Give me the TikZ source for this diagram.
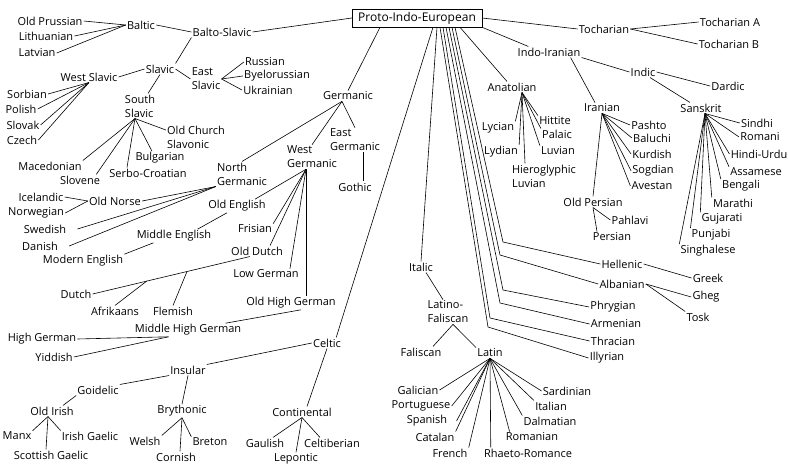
\documentclass[tikz,border=0pt]{standalone}
\usepackage{fontspec}
\setmainfont{Open Sans}
\usetikzlibrary{calc}
\begin{document}
\begin{tikzpicture}[x=1pt,y=-1pt,
  every node/.style={inner sep=1pt,font=\fontsize{11}{14}\selectfont},
  root/.style={draw,inner xsep=6pt,inner ysep=3pt,font=\fontsize{12}{14}\selectfont},
  every path/.style={line width=0.6pt}]
\useasboundingbox (0,0) rectangle (788,468);
\path (417,18) node[root](pie){Proto-Indo-European};
\path
(222,32) node(balto){Balto-Slavic}
(141,25) node(baltic){Baltic}
(50,21) node(oprus){Old Prussian}
(46,36) node(lith){Lithuanian}
(37,53) node(latv){Latvian}
(160,69) node(slavic){Slavic}
(89,77) node(wslav){West Slavic}
(27,94) node(sorb){Sorbian}
(21,109) node(pol){Polish}
(23,125) node(slk){Slovak}
(22,140) node(cze){Czech}
(140,106) node[align=left](sslav){South\\Slavic}
(206,79) node[align=left](eslav){East\\Slavic}
(265,62) node(rus){Russian}
(277,76) node(bye){Byelorussian}
(268,90) node(ukr){Ukrainian}
(196,137) node[align=left](ocs){Old Church\\Slavonic}
(160,158) node(bul){Bulgarian}
(148,173) node(serb){Serbo-Croatian}
(50,166) node(mac){Macedonian}
(80,180) node(slov){Slovene};
\path[draw] (pie.west)--(balto.east);
\path[draw] (balto.west)--(baltic.east);
\path[draw] (balto.south west)--(slavic.north east);
\path[draw] (baltic.west)--(oprus.east);
\path[draw] (baltic.west)--(lith.east);
\path[draw] (baltic.west)--(latv.east);
\path[draw] (slavic.west)--(wslav.east);
\path[draw] (slavic.south)--([xshift=8pt]sslav.north);
\path[draw] (slavic.east)--(eslav.west);
\path[draw] (eslav.east)--(rus.west);
\path[draw] (eslav.east)--(bye.west);
\path[draw] (eslav.east)--(ukr.west);
\path[draw] (wslav.south)--(sorb.east);
\path[draw] (wslav.south)--(pol.east);
\path[draw] (wslav.south)--(slk.east);
\path[draw] (wslav.south)--(cze.east);
\path[draw] ([xshift=-5pt]sslav.south)--([yshift=7pt]ocs.west);
\path[draw] ([xshift=-5pt]sslav.south)--(mac.north east);
\path[draw] ([xshift=-5pt]sslav.south)--([xshift=-5pt]slov.north east);
\path[draw] ([xshift=-5pt]sslav.south)--([xshift=-21pt]serb.north);
\path[draw] ([xshift=-5pt]sslav.south)--([xshift=-8pt]bul.north);
\path
(348,96) node(germ){Germanic}
(242,174) node[align=left](ngerm){North\\Germanic}
(312,157) node[align=left](wgerm){West\\Germanic}
(355,140) node[align=left](egerm){East\\Germanic}
(355,187) node(goth){Gothic}
(115,201) node(onorse){Old Norse}
(41,197) node(ice){Icelandic}
(36,213) node(nor){Norwegian}
(45,229) node(swe){Swedish}
(40,246) node(dan){Danish}
(237,206) node(oeng){Old English}
(174,236) node(meng){Middle English}
(83,261) node(modeng){Modern English}
(255,229) node(fris){Frisian}
(257,251) node(odutch){Old Dutch}
(76,294) node(dutch){Dutch}
(115,311) node(afr){Afrikaans}
(173,311) node(flem){Flemish}
(266,274) node(lowg){Low German}
(291,303) node(ohg){Old High German}
(188,330) node(mhg){Middle High German}
(42,339) node(highg){High German}
(54,357) node(yid){Yiddish};
\path[draw] ([xshift=-37pt]pie.south)--(germ.north);
\path[draw] ([xshift=-6pt]germ.south)--(ngerm.north);
\path[draw] ([xshift=-6pt]germ.south)--(wgerm.north);
\path[draw] ([xshift=-6pt]germ.south)--(egerm.north);
\path[draw] ([xshift=8pt]egerm.south)--([xshift=8pt]goth.north);
\path[draw] (ngerm.south west)--(onorse.east);
\path[draw] (ngerm.south west)--([xshift=10pt]swe.east);
\path[draw] (ngerm.south west)--([xshift=10pt]dan.east);
\path[draw] (onorse.west)--(ice.east);
\path[draw] (onorse.west)--(nor.east);
\path[draw] ([xshift=-6pt]wgerm.south)--([xshift=-12pt]oeng.north east);
\path[draw] ([xshift=-6pt]wgerm.south)--(fris.north east);
\path[draw] ([xshift=-6pt]wgerm.south)--([xshift=-14pt]odutch.north east);
\path[draw] ([xshift=-6pt]wgerm.south)--([xshift=-10pt]lowg.north east);
\path[draw] ([xshift=-6pt]wgerm.south)--([xshift=15pt]ohg.north);
\path[draw] ([xshift=20pt]oeng.south west)--([xshift=-15pt]meng.north east);
\path[draw] ([xshift=18pt]meng.south west)--(modeng.north east);
\path[draw] ([xshift=20pt]odutch.south west)--(dutch.east);
\path[draw] ($([xshift=20pt]odutch.south west)!0.4!(dutch.east)$)--(flem.north);
\path[draw] ($([xshift=20pt]odutch.south west)!0.656!(dutch.east)$)--(afr.north);
\path[draw] ([xshift=56pt]ohg.south west)--([xshift=-17pt]mhg.north east);
\path[draw] ([xshift=35pt]mhg.south west)--(highg.east);
\path[draw] ([xshift=35pt]mhg.south west)--(yid.east);
\path
(327,343) node(celtic){Celtic}
(188,370) node(insular){Insular}
(98,390) node(goid){Goidelic}
(52,411) node(oirish){Old Irish}
(17,436) node(manx){Manx}
(90,436) node(igael){Irish Gaelic}
(51,455) node(sgael){Scottish Gaelic}
(182,411) node(bryth){Brythonic}
(145,441) node(welsh){Welsh}
(210,442) node(breton){Breton}
(176,457) node(cornish){Cornish}
(302,412) node(cont){Continental}
(265,443) node(gaul){Gaulish}
(332,443) node(celtib){Celtiberian}
(296,459) node(lepon){Lepontic};
\path[draw] ([xshift=16pt]pie.south)--([xshift=-6pt]celtic.north east);
\path[draw] (celtic.west)--(insular.north east);
\path[draw] (celtic.south)--([xshift=5pt]cont.north);
\path[draw] (insular.south west)--(goid.north east);
\path[draw] (insular.south)--(bryth.north);
\path[draw] (goid.south west)--([xshift=11pt]oirish.north);
\path[draw] ([xshift=-4pt]oirish.south)--(manx.north east);
\path[draw] ([xshift=-4pt]oirish.south)--(igael.north west);
\path[draw] ([xshift=-4pt]oirish.south)--([xshift=-5pt]sgael.north);
\path[draw] (bryth.south)--(welsh.north east);
\path[draw] (bryth.south)--(breton.north west);
\path[draw] (bryth.south)--([xshift=4pt]cornish.north);
\path[draw] (cont.south)--([xshift=8pt]gaul.north);
\path[draw] (cont.south)--([xshift=-12pt]celtib.north);
\path[draw] (cont.south)--(lepon.north);
\path
(421,267) node(italic){Italic}
(448,312) node[align=left](latfal){Latino-\\Faliscan}
(421,352) node(falisc){Faliscan}
(490,353) node(latin){Latin}
(418,390) node(galic){Galician}
(421,406) node(port){Portuguese}
(427,421) node(span){Spanish}
(435,437) node(catal){Catalan}
(450,453) node(french){French}
(528,453) node(rhaeto){Rhaeto-Romance}
(532,437) node(roman){Romanian}
(550,421) node(dalm){Dalmatian}
(551,406) node(ital){Italian}
(567,391) node(sard){Sardinian};
\path[draw] ([xshift=20pt]pie.south)--(italic.north);
\path[draw] ([xshift=5pt]italic.south)--([xshift=-5pt]latfal.north);
\path[draw] ([xshift=5pt]latfal.south)--([xshift=12pt]falisc.north);
\path[draw] ([xshift=5pt]latfal.south)--(latin.north west);
\path[draw] (latin.south)--(galic.east);
\path[draw] (latin.south)--(port.east);
\path[draw] (latin.south)--([xshift=8pt]span.east);
\path[draw] (latin.south)--(catal.north east);
\path[draw] (latin.south)--(french.north east);
\path[draw] (latin.south)--([xshift=8pt]rhaeto.north west);
\path[draw] (latin.south)--([xshift=5pt]roman.north west);
\path[draw] (latin.south)--(dalm.north west);
\path[draw] (latin.south)--(ital.north west);
\path[draw] (latin.south)--(sard.west);
\path
(622,264) node(hell){Hellenic}
(622,284) node(alb){Albanian}
(708,278) node(greek){Greek}
(706,297) node(gheg){Gheg}
(698,317) node(tosk){Tosk}
(613,307) node(phry){Phrygian}
(616,324) node(arm){Armenian}
(613,341) node(thrac){Thracian}
(607,358) node(illyr){Illyrian};
\path[draw] ([xshift=38pt]pie.south)--(503,242)--(hell.west);
\path[draw] ([xshift=35pt]pie.south)--(500,255)--(alb.west);
\path[draw] ([xshift=32pt]pie.south)--(503,290)--(phry.west);
\path[draw] ([xshift=29pt]pie.south)--(500,303)--(arm.west);
\path[draw] ([xshift=26pt]pie.south)--(490,318)--(thrac.west);
\path[draw] ([xshift=23pt]pie.south)--(488,327)--(illyr.west);
\path[draw] (hell.east)--(greek.west);
\path[draw] (alb.east)--(gheg.west);
\path[draw] (alb.east)--(tosk.north west);
\path
(512,87) node(anat){Anatolian}
(555,121) node(hitt){Hittite}
(557,134) node(pala){Palaic}
(498,128) node(lyc){Lycian}
(501,152) node(lyd){Lydian}
(558,151) node(luv){Luvian}
(544,176) node[align=left](hluv){Hieroglyphic\\Luvian};
\path[draw] ([xshift=43pt]pie.south)--([xshift=-5pt]anat.north);
\path[draw] ([xshift=10pt]anat.south)--(lyc.north east);
\path[draw] ([xshift=10pt]anat.south)--(lyd.north east);
\path[draw] ([xshift=10pt]anat.south)--([xshift=-19pt]hluv.north);
\path[draw] ([xshift=10pt]anat.south)--(luv.north west);
\path[draw] ([xshift=10pt]anat.south)--(hitt.north west);
\path[draw] ([xshift=10pt]anat.south)--(pala.north west);
\path
(604,29) node(toch){Tocharian}
(730,22) node(tocha){Tocharian A}
(729,44) node(tochb){Tocharian B}
(549,52) node(indoir){Indo-Iranian}
(643,72) node(indic){Indic}
(728,86) node(dardic){Dardic}
(701,108) node(sansk){Sanskrit}
(602,108) node(iranian){Iranian}
(649,125) node(pashto){Pashto}
(652,138) node(baluchi){Baluchi}
(652,154) node(kurdish){Kurdish}
(653,171) node(sogd){Sogdian}
(652,186) node(avest){Avestan}
(593,202) node(opers){Old Persian}
(630,220) node(pahl){Pahlavi}
(612,237) node(pers){Persian}
(757,123) node(sindhi){Sindhi}
(760,137) node(romani){Romani}
(759,154) node(hindi){Hindi-Urdu}
(756,172) node(assam){Assamese}
(741,186) node(beng){Bengali}
(733,203) node(mar){Marathi}
(722,219) node(guj){Gujarati}
(711,235) node(punj){Punjabi}
(708,251) node(singh){Singhalese};
\path[draw] (pie.east)--(toch.west);
\path[draw] (toch.east)--(tocha.west);
\path[draw] (toch.east)--(tochb.west);
\path[draw] (pie.south east)--([xshift=12pt]indoir.north west);
\path[draw] (indoir.south east)--(indic.west);
\path[draw] ([xshift=-11pt]indoir.south east)--([xshift=-7pt]iranian.north);
\path[draw] (indic.east)--(dardic.west);
\path[draw] ([xshift=7pt]indic.south)--([xshift=-11pt]sansk.north);
\path[draw] (iranian.south)--(pashto.west);
\path[draw] (iranian.south)--(baluchi.west);
\path[draw] (iranian.south)--(kurdish.west);
\path[draw] (iranian.south)--(sogd.west);
\path[draw] (iranian.south)--(avest.west);
\path[draw] (iranian.south)--(opers.north);
\path[draw] (opers.south)--(pahl.west);
\path[draw] (opers.south)--([xshift=-15pt]pers.north);
\path[draw] ([xshift=4pt]sansk.south)--(sindhi.west);
\path[draw] ([xshift=4pt]sansk.south)--(romani.west);
\path[draw] ([xshift=4pt]sansk.south)--(hindi.west);
\path[draw] ([xshift=4pt]sansk.south)--(assam.north west);
\path[draw] ([xshift=4pt]sansk.south)--(beng.north west);
\path[draw] ([xshift=4pt]sansk.south)--(mar.north west);
\path[draw] ([xshift=4pt]sansk.south)--(guj.north west);
\path[draw] ([xshift=4pt]sansk.south)--(punj.north west);
\path[draw] ([xshift=4pt]sansk.south)--(singh.north west);
\end{tikzpicture}
\end{document}
